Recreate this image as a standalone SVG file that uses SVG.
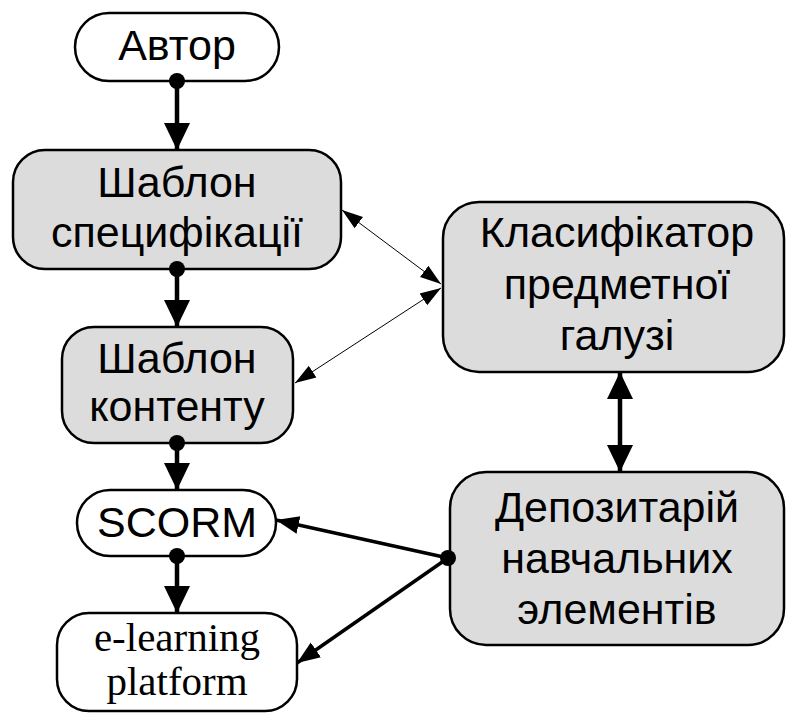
<svg xmlns="http://www.w3.org/2000/svg" width="786" height="713" viewBox="0 0 786 713">
<style>
.box{stroke:#000;stroke-width:2.5;}
.g{fill:#dcdcdc;}
.w{fill:#fff;}
.t{font-family:"Liberation Sans",Arial,sans-serif;font-size:43px;text-anchor:middle;fill:#000;}
.tr{font-family:"Liberation Serif","Times New Roman",serif;font-size:41px;text-anchor:middle;fill:#000;}
.bold{stroke:#000;stroke-width:4.5;fill:none;}
.thin{stroke:#000;stroke-width:1;fill:none;}
</style>
<defs>
<marker id="ab" markerUnits="userSpaceOnUse" markerWidth="28" markerHeight="28" refX="27" refY="13" orient="auto-start-reverse" viewBox="0 0 28 26">
<path d="M0,0 L27,13 L0,26 z" fill="#000"/>
</marker>
<marker id="am" markerUnits="userSpaceOnUse" markerWidth="24" markerHeight="20" refX="23" refY="9" orient="auto-start-reverse" viewBox="0 0 24 18">
<path d="M0,0 L23,9 L0,18 z" fill="#000"/>
</marker>
<marker id="at" markerUnits="userSpaceOnUse" markerWidth="22" markerHeight="16" refX="21" refY="7" orient="auto-start-reverse" viewBox="0 0 22 14">
<path d="M0,0 L21,7 L0,14 z" fill="#000"/>
</marker>
<marker id="dot" markerUnits="userSpaceOnUse" markerWidth="18" markerHeight="18" refX="9" refY="9" viewBox="0 0 18 18">
<circle cx="9" cy="9" r="8" fill="#000"/>
</marker>
</defs>
<g id="avtor">
<rect class="box w" x="75" y="13" width="204" height="68" rx="34" ry="34"/>
<text class="t" x="177" y="60">Автор</text>
</g>
<g id="shablon-spec">
<rect class="box g" x="13" y="150" width="328" height="119" rx="32" ry="32"/>
<text class="t" x="177" y="197">Шаблон</text>
<text class="t" x="177" y="247">специфікації</text>
</g>
<g id="shablon-content">
<rect class="box g" x="62" y="327" width="231" height="116" rx="32" ry="32"/>
<text class="t" x="177" y="373">Шаблон</text>
<text class="t" x="177" y="421">контенту</text>
</g>
<g id="scorm">
<rect class="box w" x="77" y="490" width="199" height="66" rx="33" ry="33"/>
<text class="t" x="177" y="537">SCORM</text>
</g>
<g id="elearning">
<rect class="box w" x="57" y="613" width="240" height="98" rx="32" ry="32"/>
<text class="tr" x="177" y="651">e-learning</text>
<text class="tr" x="177" y="695">platform</text>
</g>
<g id="klasyfikator">
<rect class="box g" x="443" y="202" width="341" height="170" rx="36" ry="36"/>
<text class="t" x="617" y="247">Класифікатор</text>
<text class="t" x="617" y="299">предметної</text>
<text class="t" x="617" y="350">галузі</text>
</g>
<g id="depozytarii">
<rect class="box g" x="450" y="472" width="334" height="173" rx="36" ry="36"/>
<text class="t" x="617" y="522">Депозитарій</text>
<text class="t" x="617" y="573">навчальних</text>
<text class="t" x="617" y="624">элементів</text>
</g>
<g id="connectors">
<path class="bold" d="M177,81 L177,150" marker-start="url(#dot)" marker-end="url(#ab)"/>
<path class="bold" d="M177,269 L177,327" marker-start="url(#dot)" marker-end="url(#ab)"/>
<path class="bold" d="M177,443 L177,490" marker-start="url(#dot)" marker-end="url(#ab)"/>
<path class="bold" d="M177,556 L177,613" marker-start="url(#dot)" marker-end="url(#ab)"/>
<path class="bold" d="M620,372 L620,472" marker-start="url(#ab)" marker-end="url(#ab)"/>
<path class="thin" d="M342,210 L441,284" marker-start="url(#at)" marker-end="url(#at)"/>
<path class="thin" d="M441,288 L295,383" marker-start="url(#at)" marker-end="url(#at)"/>
<path class="thin" d="M448,558 L276,520" style="stroke-width:3.5" marker-start="url(#dot)" marker-end="url(#am)"/>
<path class="thin" d="M448,558 L297,663" style="stroke-width:3.5" marker-end="url(#am)"/>
</g>
</svg>
